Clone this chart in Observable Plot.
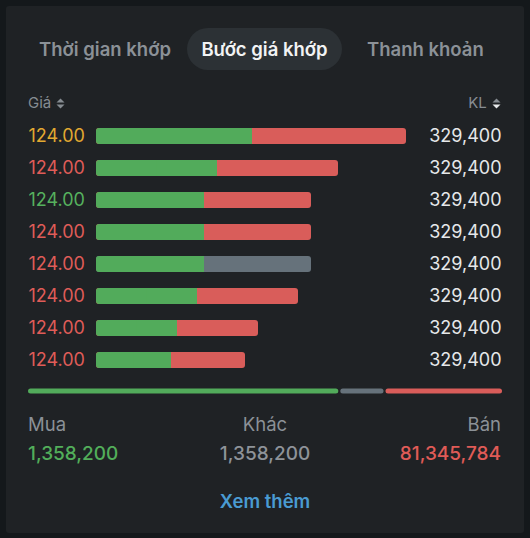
<!DOCTYPE html>
<html><head><meta charset="utf-8">
<script src="https://cdn.jsdelivr.net/npm/d3@7"></script>
<script src="https://cdn.jsdelivr.net/npm/@observablehq/plot@0.6"></script>
<style>
html,body{margin:0;padding:0;}
body{background:#14181b;width:530px;height:538px;overflow:hidden;font-family:Inter,"Noto Sans",sans-serif;position:relative;}
#panel{position:absolute;left:6px;top:6px;width:518px;height:527px;background:#1f2225;border-radius:3px;}
.abs{position:absolute;white-space:nowrap;}
.tab{top:28px;height:42px;line-height:42px;font-size:18.5px;font-weight:600;color:#8b9197;}
#pill{position:absolute;left:187px;top:28px;width:155px;height:42px;border-radius:21px;background:#2c3135;}
.hdr{top:93px;height:20px;line-height:20px;font-size:15px;color:#868c92;}
.lbl{top:414px;height:20px;line-height:20px;font-size:18.5px;color:#8b9197;}
.val{top:443px;height:22px;line-height:22px;font-size:19px;font-weight:500;}
#chart,#summary{position:absolute;left:0;}
#chart{top:0;}
#summary{top:381px;}
</style></head>
<body>
<div id="panel"></div>
<div id="pill"></div>
<div class="abs tab" style="left:39px;">Thời gian khớp</div>
<div class="abs tab" style="left:187px;width:155px;text-align:center;color:#f2f3f4;">Bước giá khớp</div>
<div class="abs tab" style="left:367px;">Thanh khoản</div>
<div class="abs hdr" style="left:28px;">Giá <svg width="9" height="11" viewBox="0 0 9 11" style="vertical-align:-1px;margin-left:1px"><path d="M4.5 0.5L8.5 4.5H0.5Z" fill="#868c92"/><path d="M4.5 10.5L8.5 6.5H0.5Z" fill="#868c92"/></svg></div>
<div class="abs hdr" style="right:29px;">KL <svg width="9" height="11" viewBox="0 0 9 11" style="vertical-align:-1px;margin-left:1px"><path d="M4.5 0.5L8.5 4.5H0.5Z" fill="#868c92"/><path d="M4.5 10.5L8.5 6.5H0.5Z" fill="#e8eaec"/></svg></div>
<div id="chart"></div>
<div id="summary"></div>
<div class="abs lbl" style="left:28px;">Mua</div>
<div class="abs lbl" style="left:0;width:530px;text-align:center;">Khác</div>
<div class="abs lbl" style="right:29px;">Bán</div>
<div class="abs val" id="vBuy" style="left:28px;color:#52ae5a;"></div>
<div class="abs val" id="vOther" style="left:0;width:530px;text-align:center;color:#8e9399;"></div>
<div class="abs val" id="vSell" style="right:29px;color:#e05b57;"></div>
<div class="abs" style="left:0;width:530px;top:490px;height:22px;line-height:22px;text-align:center;font-size:18.5px;font-weight:600;color:#4a9bd2;">Xem thêm</div>
<script>
// ---- data ----
const prices = ["124.00","124.00","124.00","124.00","124.00","124.00","124.00","124.00"];
const priceTone = ["ref","down","up","down","down","down","down","down"];
const buyVol = [156,121,108,108,108,101,81,75];
const sellVol = [154,121,107,107,0,101,81,74];
const otherVol = [0,0,0,0,107,0,0,0];
const volumeLabels = ["329,400","329,400","329,400","329,400","329,400","329,400","329,400","329,400"];
const summaryKinds = ["buy","other","sell"];
const summaryShares = [311,45,118];
const totalLabels = {buy:"1,358,200", other:"1,358,200", sell:"81,345,784"};

const colorDomain = ["buy","sell","other","ref","up","down"];
const colorRange = ["#52ab5b","#d95d5a","#66727b","#e2a931","#56b15e","#df5c58"];

const rows = prices.map((p,i)=>({
  row:i, price:p, tone:priceTone[i], buy:buyVol[i], sell:sellVol[i], other:otherVol[i],
  total:buyVol[i]+sellVol[i]+otherVol[i], rest: otherVol[i]>0 ? "other" : "sell",
  half: buyVol[i]/2, vol:volumeLabels[i]
}));

const chart = Plot.plot({
  width:530, height:400,
  marginLeft:28, marginRight:29, marginTop:120, marginBottom:24,
  style:{background:"transparent", fontFamily:"Inter, sans-serif"},
  x:{domain:[0,310], range:[96,406], axis:null},
  y:{domain:d3.range(rows.length), paddingInner:0.5, paddingOuter:0.25, axis:null},
  color:{domain:colorDomain, range:colorRange},
  marks:[
    Plot.barX(rows,{x1:0, x2:"total", y:"row", fill:"rest", rx:3}),
    Plot.barX(rows,{x1:0, x2:"buy", y:"row", fill:()=>"buy", rx:3}),
    Plot.barX(rows,{x1:"half", x2:"buy", y:"row", fill:()=>"buy"}),
    Plot.text(rows,{y:"row", text:"price", frameAnchor:"left", textAnchor:"start", fill:"tone", fontSize:18}),
    Plot.text(rows,{y:"row", text:"vol", frameAnchor:"right", textAnchor:"end", fill:"#e6e8ea", fontSize:18})
  ]
});
document.getElementById("chart").appendChild(chart);

const summary = summaryKinds.map((k,i)=>({kind:k, share:summaryShares[i]}));
const sum = Plot.plot({
  width:530, height:20,
  marginLeft:0, marginRight:0, marginTop:7.5, marginBottom:7.5,
  style:{background:"transparent"},
  x:{domain:[0, d3.sum(summaryShares)], range:[27,503], axis:null},
  color:{domain:colorDomain, range:colorRange},
  marks:[
    Plot.barX(summary, Plot.stackX({x:"share", fill:"kind", insetLeft:1, insetRight:1, rx:2.5}))
  ]
});
document.getElementById("summary").appendChild(sum);

document.getElementById("vBuy").textContent = totalLabels.buy;
document.getElementById("vOther").textContent = totalLabels.other;
document.getElementById("vSell").textContent = totalLabels.sell;
</script>
</body></html>
